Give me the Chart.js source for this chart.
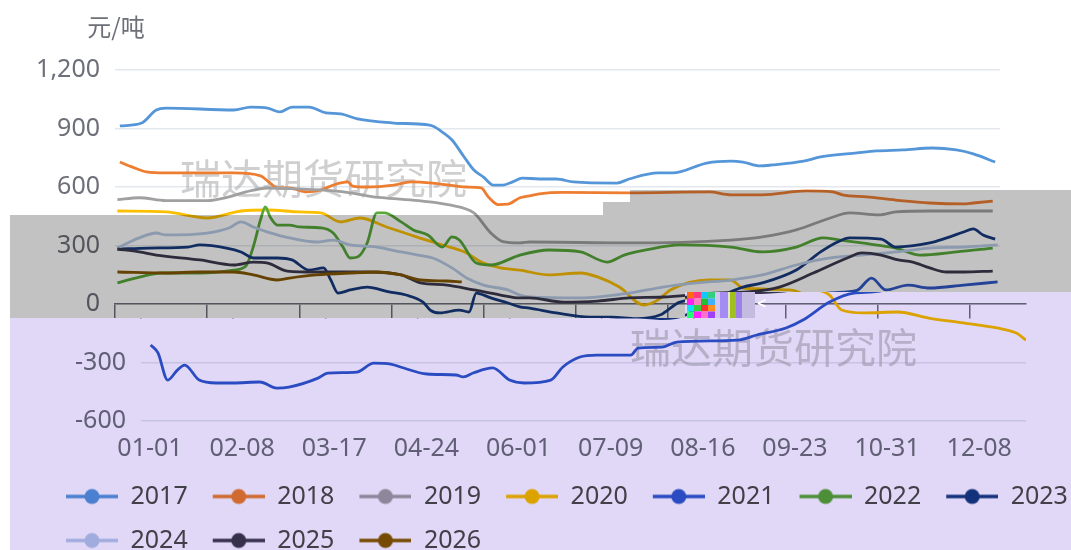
<!DOCTYPE html>
<html>
<head>
<meta charset="utf-8">
<script src="https://cdn.jsdelivr.net/npm/chart.js@4.4.1/dist/chart.umd.min.js"></script>
<style>
  html, body { margin: 0; padding: 0; background: #fff; }
  #wrap { width: 1071px; height: 550px; }
</style>
</head>
<body>
<div id="wrap"><canvas id="chart" width="1071" height="550"></canvas></div>
<script>
// x = day of year (leap-year calendar, 0 = 01-01), y = 元/吨
const years = ["2017", "2018", "2019", "2020", "2021", "2022", "2023", "2024", "2025", "2026"];
const lineColors = ["#5596d8", "#ed7d31", "#a0a0a0", "#fbbf00", "#2f58c8", "#58a83a", "#163a80", "#b8cbe6", "#3c3a4e", "#865700"];

const tickDays = [0, 38, 76, 114, 152, 190, 228, 266, 304, 342];
const tickLabels = ["01-01", "02-08", "03-17", "04-24", "06-01", "07-09", "08-16", "09-23", "10-31", "12-08"];
const yMin = -600;
const yMax = 1200;
const yStep = 300;

const s2017 = [[2,913],[11,928],[17,995],[21,1005],[49,995],[56,1010],[63,1005],[68,985],[73,1010],[80,1010],[87,980],[93,975],[100,949],[115,928],[125,923],[131,913],[135,882],[139,841],[144,754],[148,687],[152,651],[156,610],[160,610],[164,626],[168,646],[175,641],[182,641],[189,626],[207,620],[212,641],[224,672],[230,672],[244,723],[254,733],[259,728],[266,708],[271,713],[284,733],[291,754],[306,775],[314,785],[325,790],[337,800],[347,790],[354,770],[363,728]];
const s2018 = [[2,728],[7,703],[13,677],[21,672],[49,672],[60,657],[64,620],[67,595],[72,595],[79,575],[85,585],[90,610],[96,626],[98,605],[104,600],[115,610],[122,626],[131,620],[145,600],[151,595],[154,549],[158,510],[162,512],[167,545],[171,555],[175,565],[185,572],[212,570],[245,575],[254,560],[267,560],[285,580],[296,575],[300,560],[310,549],[322,533],[336,518],[350,513],[354,518],[362,528]];
const s2019 = [[1,535],[10,545],[21,530],[38,530],[47,549],[54,575],[63,595],[75,590],[90,580],[97,570],[104,555],[110,545],[125,530],[138,508],[148,467],[155,364],[160,320],[167,313],[171,318],[212,313],[254,328],[267,344],[281,380],[295,441],[303,467],[315,457],[322,472],[336,477],[362,477]];
const s2020 = [[1,477],[21,472],[38,441],[52,477],[63,482],[76,472],[85,467],[93,421],[101,441],[112,395],[122,354],[131,318],[138,292],[145,262],[151,215],[159,185],[167,174],[179,149],[192,159],[199,139],[208,87],[218,-5],[224,21],[229,72],[245,123],[254,123],[259,82],[278,72],[284,46],[289,-31],[298,-46],[312,-41],[325,-72],[339,-97],[353,-123],[361,-149],[365,-185]];
const s2021 = [[4,-210],[7,-251],[11,-390],[15,-339],[18,-313],[24,-390],[31,-405],[38,-405],[49,-400],[56,-431],[61,-426],[73,-380],[77,-354],[89,-349],[96,-303],[103,-308],[107,-323],[118,-359],[130,-364],[133,-374],[137,-354],[145,-328],[152,-390],[158,-405],[169,-390],[174,-323],[181,-272],[188,-262],[202,-262],[205,-226],[215,-221],[221,-195],[246,-185],[254,-159],[266,-123],[273,-82],[284,10],[294,56],[306,70],[312,133],[318,72],[327,97],[336,82],[350,97],[364,113]];
const s2022 = [[1,108],[10,138],[19,159],[35,159],[49,174],[54,195],[57,292],[60,431],[62,498],[64,446],[67,405],[72,405],[76,395],[85,390],[90,364],[94,292],[97,236],[100,241],[104,313],[108,467],[111,467],[118,421],[123,380],[129,354],[135,292],[139,344],[142,328],[149,210],[155,200],[167,251],[179,277],[192,267],[203,215],[210,251],[219,277],[233,303],[254,292],[267,267],[281,292],[292,339],[299,328],[308,313],[322,287],[332,251],[347,267],[362,287]];
const s2023 = [[1,282],[14,287],[30,292],[35,303],[46,287],[52,267],[57,236],[67,236],[73,226],[80,174],[86,185],[89,123],[92,56],[97,72],[104,87],[113,62],[120,46],[127,10],[130,-31],[134,-46],[142,-31],[146,-41],[149,56],[155,31],[162,5],[167,-15],[171,-21],[182,-46],[196,-67],[205,-67],[215,-75],[225,-55],[233,10],[247,31],[259,87],[267,108],[281,174],[291,267],[298,318],[303,339],[316,333],[322,292],[336,313],[343,339],[350,369],[354,385],[358,354],[363,333]];
const s2024 = [[1,287],[10,339],[17,364],[21,354],[38,364],[47,390],[52,421],[57,395],[63,369],[72,339],[83,318],[90,328],[97,303],[108,292],[118,267],[125,251],[131,236],[139,185],[145,133],[152,97],[162,72],[167,46],[171,36],[192,31],[212,56],[226,87],[240,108],[254,123],[267,149],[281,200],[295,236],[308,251],[322,267],[336,287],[350,292],[364,303]];
const s2025 = [[1,282],[10,267],[17,251],[35,226],[49,200],[57,215],[63,210],[71,169],[83,164],[104,164],[118,149],[126,108],[137,97],[148,72],[159,46],[167,31],[171,31],[185,10],[199,15],[212,31],[226,36],[247,56],[261,62],[274,87],[288,159],[302,236],[308,262],[316,251],[323,226],[329,215],[336,185],[343,164],[350,164],[362,169]];
const s2026 = [[1,164],[21,159],[35,164],[49,164],[57,149],[67,123],[72,133],[83,149],[97,159],[108,164],[118,149],[126,123],[137,118],[143,113]];

const series = [s2017, s2018, s2019, s2020, s2021, s2022, s2023, s2024, s2025, s2026];

const unitLabel = "元/吨";
const watermark = "瑞达期货研究院";

Chart.defaults.font.family = "'Noto Sans', 'Noto Sans CJK SC', sans-serif";

// legend icon: line with a dot in the middle
const makeIcon = (color) => {
  const c = document.createElement("canvas");
  c.width = 58;
  c.height = 18;
  const g = c.getContext("2d");
  g.strokeStyle = color;
  g.lineWidth = 3.5;
  g.beginPath();
  g.moveTo(6, 9);
  g.lineTo(58, 9);
  g.stroke();
  g.fillStyle = color;
  g.beginPath();
  g.arc(32, 9, 7.5, 0, Math.PI * 2);
  g.fill();
  return c;
};

const setTicks = (scale) => {
  scale.ticks = tickDays.map((v) => ({ value: v }));
};

// screenshot look: grey band, lavender lower part shifted right
const screenFx = {
  id: "screenFx",
  beforeDraw(chart) {
    const ctx = chart.ctx;
    ctx.save();
    ctx.fillStyle = "#fff";
    ctx.fillRect(0, 0, chart.width, chart.height);
    ctx.restore();
  },
  beforeDatasetsDraw(chart) {
    const ctx = chart.ctx;
    ctx.save();
    ctx.font = "41px 'Noto Sans CJK SC'";
    ctx.fillStyle = "rgba(175,175,175,0.6)";
    ctx.textBaseline = "middle";
    ctx.fillText(watermark, 180, 178);
    ctx.fillText(watermark, 604, 347);
    ctx.restore();
  },
  afterDraw(chart) {
    const ctx = chart.ctx;
    const W = chart.width;
    const H = chart.height;

    ctx.save();
    ctx.font = "24px 'Noto Sans CJK SC'";
    ctx.fillStyle = "#6e7079";
    ctx.textAlign = "center";
    ctx.textBaseline = "middle";
    ctx.fillText(unitLabel, 116, 27);
    ctx.restore();

    const snap = document.createElement("canvas");
    snap.width = chart.canvas.width;
    snap.height = chart.canvas.height;
    snap.getContext("2d").drawImage(chart.canvas, 0, 0);

    const dx = 26;
    ctx.save();
    ctx.setTransform(1, 0, 0, 1, 0, 0);
    ctx.fillStyle = "#fff";
    ctx.fillRect(0, 318, W, H - 318);
    ctx.fillRect(685, 292, W - 685, 26);
    ctx.drawImage(snap, 0, 318, W - dx, H - 318, dx, 318, W - dx, H - 318);
    ctx.drawImage(snap, 685 - dx, 292, W - 685, 26, 685, 292, W - 685, 26);

    ctx.globalCompositeOperation = "multiply";
    ctx.fillStyle = "#c2c2c2";
    ctx.fillRect(10, 215, 593, 103);
    ctx.fillRect(603, 202, 27, 116);
    ctx.fillRect(630, 190, 55, 128);
    ctx.fillRect(685, 190, W - 685, 102);
    ctx.fillStyle = "#e0d8f6";
    ctx.fillRect(10, 318, W - 10, H - 318);
    ctx.fillRect(685, 292, W - 685, 26);
    ctx.globalCompositeOperation = "source-over";

    // glitch block
    const glitch = [
      ["#ff6a10", "#ff3a80", "#10c8ff", "#30d080"],
      ["#ff20f0", "#ff80c0", "#20c030", "#40b0ff"],
      ["#10e0ff", "#30d040", "#ff3030", "#ff9020"],
      ["#20ff70", "#ff20ff", "#ff70d0", "#a040ff"],
    ];
    glitch.forEach((row, r) => {
      row.forEach((col, c) => {
        ctx.fillStyle = col;
        ctx.fillRect(687 + c * 7, 292 + r * 6.5, 7, 6.5);
      });
    });
    [["#d0c8f0", 715, 5], ["#a48cf4", 720, 8], ["#e4e8c8", 728, 2], ["#a0c020", 730, 6], ["#9c80e8", 736, 6], ["#c4bce0", 742, 13]].forEach(([col, x, w]) => {
      ctx.fillStyle = col;
      ctx.fillRect(x, 292, w, 26);
    });
    ctx.fillStyle = "#fff";
    ctx.font = "bold 16px 'Noto Sans'";
    ctx.textBaseline = "middle";
    ctx.fillText("<", 757, 304);
    ctx.restore();
  },
};

const datasets = series.map((s, i) => ({
  label: years[i],
  data: s.map(([d, v]) => ({ x: d, y: v })),
  borderColor: lineColors[i],
  backgroundColor: lineColors[i],
  borderWidth: 2.8,
  pointRadius: 0,
  pointHoverRadius: 0,
  pointStyle: makeIcon(lineColors[i]),
  cubicInterpolationMode: "monotone",
  fill: false,
  order: -i,
}));

new Chart(document.getElementById("chart"), {
  type: "line",
  data: { datasets },
  options: {
    responsive: false,
    animation: false,
    events: [],
    layout: { padding: { left: 15, right: 0, top: 70, bottom: -13 } },
    plugins: {
      tooltip: { enabled: false },
      title: { display: false },
      legend: {
        position: "bottom",
        align: "start",
        labels: {
          usePointStyle: true,
          pointStyleWidth: 58,
          padding: 19,
          color: "#4a4a4a",
          font: { size: 25 },
          sort: (a, b) => a.datasetIndex - b.datasetIndex,
        },
      },
    },
    scales: {
      x: {
        type: "linear",
        min: 0,
        max: 365,
        position: "bottom",
        grid: { display: false, drawTicks: false },
        border: { display: false },
        afterBuildTicks: setTicks,
        afterFit: (s) => { s.height = 44; },
        ticks: {
          autoSkip: false,
          maxRotation: 0,
          padding: 13,
          labelOffset: 9,
          color: "#6e7079",
          font: { size: 25 },
          callback: (v, i) => tickLabels[i],
        },
      },
      xz: {
        type: "linear",
        min: 0,
        max: 365,
        position: { y: 0 },
        grid: { display: true, drawOnChartArea: false, drawTicks: true, tickLength: 14, color: "#6e7079", lineWidth: 1.5 },
        border: { display: true, color: "#6e7079", width: 1.5 },
        ticks: { display: false },
        afterBuildTicks: setTicks,
      },
      y: {
        min: yMin,
        max: yMax,
        grid: { color: "#e3e7ee", lineWidth: 1.5, drawTicks: false },
        border: { display: false },
        afterFit: (s) => { s.width = 100; },
        ticks: { stepSize: yStep, padding: 15, color: "#6e7079", font: { size: 25 } },
      },
      y2: {
        position: "right",
        min: 0,
        max: 1,
        grid: { display: false, drawTicks: false },
        border: { display: false },
        ticks: { display: false },
        afterFit: (s) => { s.width = 71; },
      },
    },
  },
  plugins: [screenFx],
});
</script>
</body>
</html>
